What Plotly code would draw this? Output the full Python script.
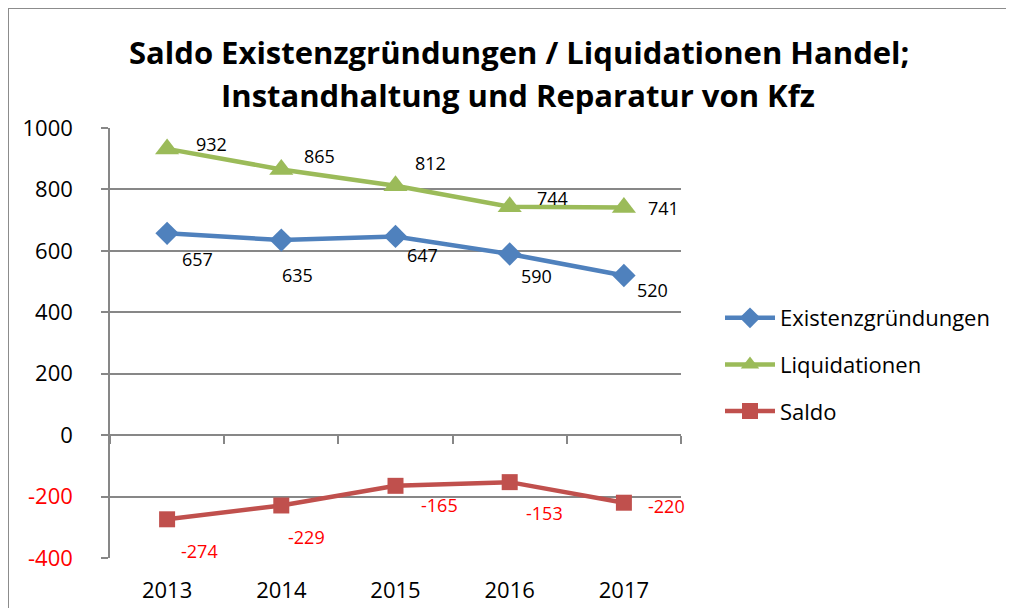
import plotly.graph_objects as go

# ---- data ----
years = ["2013", "2014", "2015", "2016", "2017"]
existenzgruendungen = [657, 635, 647, 590, 520]
liquidationen = [932, 865, 812, 744, 741]
saldo = [-274, -229, -165, -153, -220]
y_ticks = [-400, -200, 0, 200, 400, 600, 800, 1000]

title_line1 = "Saldo Existenzgründungen / Liquidationen Handel;"
title_line2 = "Instandhaltung und Reparatur von Kfz"

# ---- styles ----
FONT = "Open Sans"
BLUE = "#4F81BD"
GREEN = "#9BBB59"
RED = "#C0504D"
LABEL_RED = "#FF0000"
GRID = "#878787"

# label offsets in pixels (dx, dy with dy positive = down)
off_ex = [(30, 26), (16, 35), (27, 19), (27, 22), (29, 15)]
off_li = [(44, -5), (38, -13), (35, -23), (43, -9), (40, 0)]
off_sa = [(32, 32), (25, 32), (44, 19), (35, 31), (43, 3)]

# page body has an 8px default margin; lay out in page pixels
PAD = 8
W, H = 1014 - PAD, 608 - PAD
PL, PR, PT, PB = 110, 681, 128, 558          # plot area in page pixels
L, T = PL - PAD, PT - PAD
R, B = W - (PR - PAD), H - (PB - PAD)
pw, ph = W - L - R, H - T - B


def px(xp):
    return (xp - PL) / pw


def py(yp):
    return (PB - yp) / ph


fig = go.Figure()
series = [
    ("Existenzgründungen", existenzgruendungen, BLUE, "diamond", 18),
    ("Liquidationen", liquidationen, GREEN, "triangle-up", 21),
    ("Saldo", saldo, RED, "square", 16),
]
for i, (name, vals, col, sym, sz) in enumerate(series):
    fig.add_trace(go.Scatter(
        x=years, y=vals, name=name, mode="lines+markers",
        line=dict(color=col, width=4.5),
        marker=dict(symbol=sym, size=sz, color=col),
        legendgroup=str(i),
        cliponaxis=False,
    ))

# invisible trace to carry the x-axis drawn at y=0
fig.add_trace(go.Scatter(x=years, y=[0] * len(years), xaxis="x2", yaxis="y",
                         mode="markers", marker=dict(opacity=0), showlegend=False,
                         hoverinfo="skip"))

annotations = []
for vals, offs, col in [(existenzgruendungen, off_ex, "black"),
                        (liquidationen, off_li, "black"),
                        (saldo, off_sa, LABEL_RED)]:
    for idx, (v, (dx, dy)) in enumerate(zip(vals, offs)):
        annotations.append(dict(x=idx, y=v, xref="x", yref="y", text=str(v),
                                showarrow=False, xshift=dx, yshift=-dy,
                                font=dict(family=FONT, size=18, color=col)))

annotations.append(dict(text="<b>" + title_line1 + "</b>", xref="paper", yref="paper",
                        x=px(519), y=py(52), showarrow=False,
                        xanchor="center", yanchor="middle",
                        font=dict(family=FONT, size=31, color="black")))
annotations.append(dict(text="<b>" + title_line2 + "</b>", xref="paper", yref="paper",
                        x=px(518), y=py(95), showarrow=False,
                        xanchor="center", yanchor="middle",
                        font=dict(family=FONT, size=31, color="black")))

tick_text = [f'<span style="color:{LABEL_RED}">{t}</span>' if t < 0 else str(t) for t in y_ticks]

shapes = [
    # outer chart border (top and left edges visible)
    dict(type="line", xref="paper", yref="paper",
         x0=px(8), x1=px(1030), y0=py(8), y1=py(8),
         line=dict(color="#8c8c8c", width=2)),
    dict(type="line", xref="paper", yref="paper",
         x0=px(8), x1=px(8), y0=py(8), y1=py(630),
         line=dict(color="#8c8c8c", width=2)),
]

ymin, ymax = -400, 1000
fig.update_layout(
    width=W, height=H,
    margin=dict(l=L, r=R, t=T, b=B, autoexpand=False),
    paper_bgcolor="white", plot_bgcolor="white",
    font=dict(family=FONT, size=22, color="black"),
    showlegend=True,
    legend=dict(x=px(720), y=py(297), xanchor="left", yanchor="top",
                font=dict(family=FONT, size=22, color="black"),
                tracegroupgap=15, itemwidth=50, bgcolor="rgba(0,0,0,0)"),
    xaxis=dict(type="category", categoryorder="array", categoryarray=years,
               range=[-0.5, len(years) - 0.5], showgrid=False, showline=False,
               ticks="", zeroline=False, ticklabelstandoff=17,
               tickfont=dict(family=FONT, size=22, color="black")),
    xaxis2=dict(type="category", categoryorder="array", categoryarray=years,
                range=[-0.5, len(years) - 0.5], overlaying="x", anchor="free",
                position=(0 - ymin) / (ymax - ymin), showline=True, linecolor=GRID,
                linewidth=1.5, ticks="outside", tickson="boundaries", ticklen=8,
                tickcolor=GRID, tickwidth=1.5, showticklabels=False, showgrid=False),
    yaxis=dict(range=[ymin, ymax], tickvals=y_ticks, ticktext=tick_text,
               showgrid=True, gridcolor=GRID, gridwidth=1.5, zeroline=False,
               showline=True, linecolor=GRID, linewidth=1.5,
               ticks="outside", ticklen=7, tickcolor=GRID, tickwidth=1.5,
               ticklabelstandoff=24,
               tickfont=dict(family=FONT, size=22, color="black")),
    annotations=annotations,
    shapes=shapes,
)

fig.write_html("out.html")
